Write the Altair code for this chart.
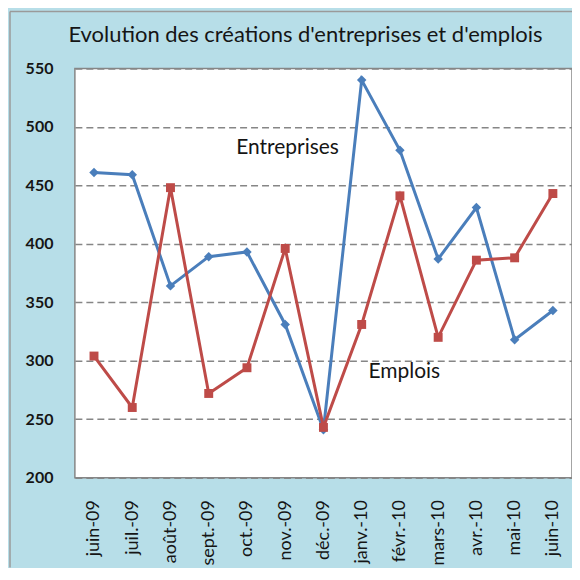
import altair as alt
import pandas as pd

months = ["juin-09", "juil.-09", "août-09", "sept.-09", "oct.-09", "nov.-09", "déc.-09",
          "janv.-10", "févr.-10", "mars-10", "avr.-10", "mai-10", "juin-10"]
entreprises = [461, 459, 364, 389, 393, 331, 241, 540, 480, 387, 431, 318, 343]
emplois = [304, 260, 448, 272, 294, 396, 243, 331, 441, 320, 386, 388, 443]
y_ticks = [200, 250, 300, 350, 400, 450, 500, 550]
title_text = "Evolution des créations d'entreprises et d'emplois"

rows = []
for m, a, b in zip(months, entreprises, emplois):
    rows.append({"mois": m, "serie": "Entreprises", "valeur": a})
    rows.append({"mois": m, "serie": "Emplois", "valeur": b})
df = pd.DataFrame(rows)

FONT = "Lato"
BG = "#b7dee8"
INK = "#151515"

x_enc = alt.X("mois:O", sort=months, title=None,
              scale=alt.Scale(padding=0.5),
              axis=alt.Axis(labelAngle=270, labelAlign="right", labelBaseline="middle",
                            labelPadding=22, ticks=False, domain=False,
                            labelFont=FONT, labelFontSize=18, labelColor=INK))
y_enc = alt.Y("valeur:Q", title=None,
              scale=alt.Scale(domain=[200, 550], nice=False, zero=False),
              axis=alt.Axis(values=y_ticks, ticks=False, domain=False, labelPadding=22,
                            grid=True, gridDash=[7, 4], gridColor="#868686", gridWidth=1.5,
                            labelFont=FONT, labelFontSize=16, labelFontWeight="bold",
                            labelColor=INK))

color = alt.Color("serie:N", legend=None,
                  scale=alt.Scale(domain=["Entreprises", "Emplois"], range=["#4a7ebb", "#be4b48"]))

base = alt.Chart(df)

lines = base.mark_line(strokeWidth=3).encode(x=x_enc, y=y_enc, color=color, detail="serie:N")

pts_e = base.transform_filter(alt.datum.serie == "Entreprises").mark_point(
    shape="diamond", filled=True, size=90, opacity=1).encode(x=x_enc, y=y_enc, color=color)
pts_m = base.transform_filter(alt.datum.serie == "Emplois").mark_point(
    shape="square", filled=True, size=80, opacity=1).encode(x=x_enc, y=y_enc, color=color)

texts = pd.DataFrame({"txt": ["Entreprises", "Emplois", title_text]})

def text_at(t, x, y, size):
    return alt.Chart(texts).transform_filter(alt.datum.txt == t).mark_text(
        font=FONT, fontSize=size, color=INK, align="center", baseline="middle").encode(
        text="txt:N", x=alt.value(x), y=alt.value(y))

lab_e = text_at("Entreprises", 213, 80, 21)
lab_m = text_at("Emplois", 330, 304, 21)
title = text_at(title_text, 231, -33, 22)

# outer frame edges (left and top) of the chart area
frame_l = alt.Chart(texts).transform_filter(alt.datum.txt == "Emplois").mark_rule(
    color="#9a9a9a", strokeWidth=1.5).encode(x=alt.value(-65), y=alt.value(-57), y2=alt.value(500))
frame_t = alt.Chart(texts).transform_filter(alt.datum.txt == "Emplois").mark_rule(
    color="#9a9a9a", strokeWidth=1.5).encode(x=alt.value(-65), x2=alt.value(500), y=alt.value(-57))

chart = alt.layer(frame_l, frame_t, lines, pts_e, pts_m, lab_e, lab_m, title).properties(
    width=498, height=410,
    padding={"left": 67, "top": 60, "right": 0, "bottom": 90},
    autosize="none",
    background=BG,
).configure_view(stroke="#868686", strokeWidth=1.5, fill="white")

chart.save("out.html", embed_options={"renderer": "svg", "actions": False})
